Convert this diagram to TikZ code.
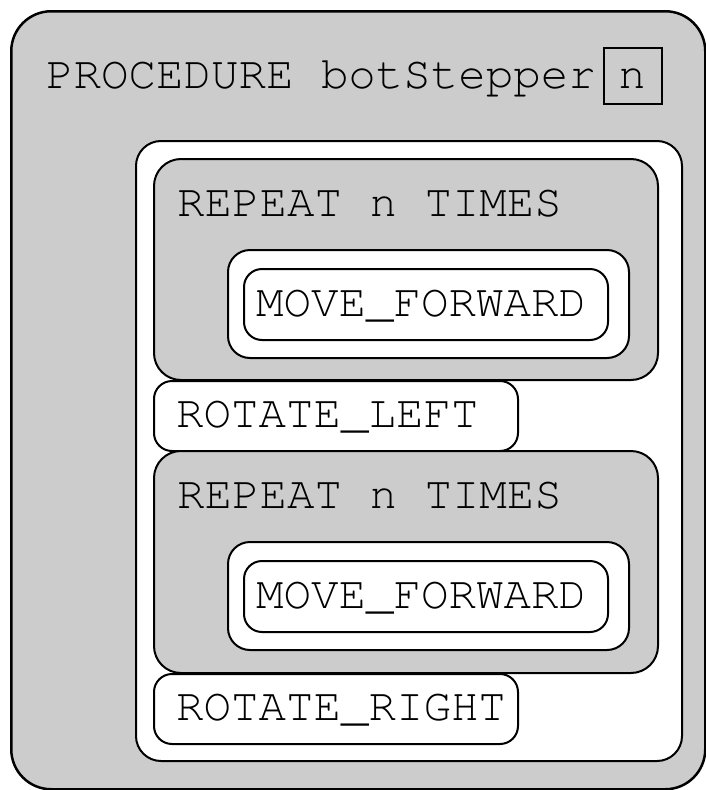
\documentclass[tikz,border=0pt]{standalone}
\usepackage[T1,TU]{fontenc}
\usetikzlibrary{positioning}
\definecolor{boxgray}{RGB}{204,204,204}
\newcommand\courfont{\fontencoding{T1}\fontfamily{pcr}\fontsize{45.8}{46}\selectfont}
\tikzset{
  gbox/.style={draw=black, fill=boxgray, line width=2pt, inner sep=0pt, anchor=north west},
  wbox/.style={draw=black, fill=white, line width=2pt, inner sep=0pt, anchor=north west},
  lbl/.style={anchor=base west, inner sep=0pt, font=\courfont},
}
\begin{document}
\begin{tikzpicture}[x=1pt,y=-1pt]
\useasboundingbox (0,0) rectangle (706,790);
% outer procedure block
\node[gbox, rounded corners=40pt, minimum width=694pt, minimum height=778pt, line width=2.5pt] (outer) at (10,10) {};
\node[lbl] (ptxt) at (46,88) {PROCEDURE botStepper};
\node[draw=black, line width=2pt, minimum width=58pt, minimum height=56pt, inner sep=0pt, anchor=north west] (nbox) at (603,47) {};
\node[anchor=base, inner sep=0pt, font=\courfont] (ntxt) at (632,88) {n};
% body
\node[wbox, rounded corners=25pt, minimum width=546pt, minimum height=620pt] (body) at (135,140) {};
% first repeat
\node[gbox, rounded corners=27pt, minimum width=504pt, minimum height=221pt] (rep1) at (153,158) {};
\node[lbl] (rep1txt) at (177,216) {REPEAT n TIMES};
\node[wbox, rounded corners=22pt, minimum width=401pt, minimum height=108pt] (in1) at (227,249) {};
\node[wbox, rounded corners=18pt, minimum width=364pt, minimum height=71pt] (mv1) at (243,268) {};
\node[lbl] (mv1txt) at (256,316) {MOVE\_FORWARD};
% rotate left
\node[wbox, rounded corners=18pt, minimum width=364pt, minimum height=70pt] (rl) at (153,380) {};
\node[lbl] (rltxt) at (176,427) {ROTATE\_LEFT};
% second repeat
\node[gbox, rounded corners=27pt, minimum width=504pt, minimum height=222pt] (rep2) at (153,450) {};
\node[lbl] (rep2txt) at (177,508) {REPEAT n TIMES};
\node[wbox, rounded corners=22pt, minimum width=401pt, minimum height=108pt] (in2) at (227,541) {};
\node[wbox, rounded corners=18pt, minimum width=364pt, minimum height=71pt] (mv2) at (243,560) {};
\node[lbl] (mv2txt) at (256,608) {MOVE\_FORWARD};
% rotate right
\node[wbox, rounded corners=18pt, minimum width=364pt, minimum height=70pt] (rr) at (153,673) {};
\node[lbl] (rrtxt) at (176,720) {ROTATE\_RIGHT};
\end{tikzpicture}
\end{document}
